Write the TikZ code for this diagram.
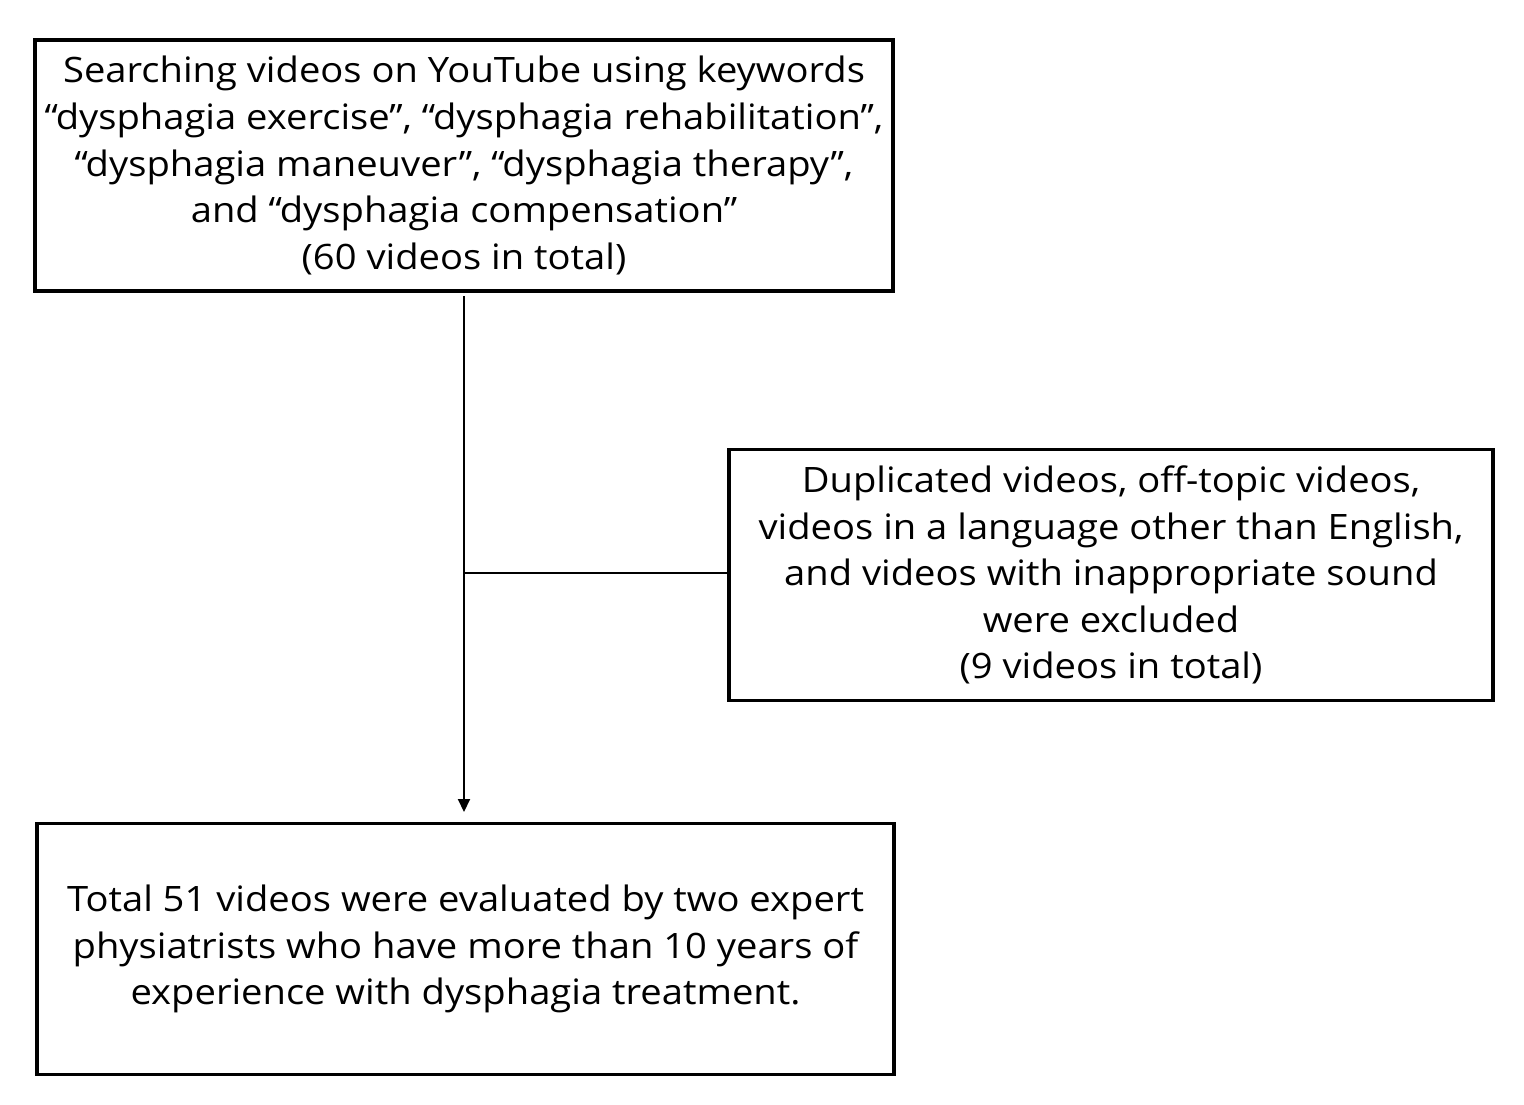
\documentclass[tikz,border=0pt]{standalone}
\usepackage{fontspec}
\setmainfont[FakeStretch=1.09]{Open Sans}
\usetikzlibrary{arrows.meta}
\begin{document}
\begin{tikzpicture}[x=1pt,y=-1pt,
  box/.style={draw,line width=3.5pt,minimum width=#1,minimum height=251pt,inner sep=0pt,align=center,
    font=\fontsize{35}{46.6}\selectfont},
  conn/.style={line width=2pt}]
\useasboundingbox (0,0) rectangle (1524,1104);
\node[box=858pt] (search) at (464,165.5) {Searching videos on YouTube using keywords\\“dysphagia exercise”, “dysphagia rehabilitation”,\\“dysphagia maneuver”, “dysphagia therapy”,\\and “dysphagia compensation”\\(60 videos in total)};
\node[box=764pt] (excl) at (1111,575) {Duplicated videos, off-topic videos,\\videos in a language other than English,\\and videos with inappropriate sound\\were excluded\\(9 videos in total)};
\node[box=857pt] (total) at (465.5,949) {Total 51 videos were evaluated by two expert\\physiatrists who have more than 10 years of\\experience with dysphagia treatment.};
\coordinate (top) at (464,296);
\coordinate (tip) at (464,812);
\coordinate (junc) at (464,573);
\draw[conn,-{Triangle[length=13pt,width=12pt]}] (top) -- (tip);
\draw[conn] (junc) -- (excl.west |- junc);
\end{tikzpicture}
\end{document}
